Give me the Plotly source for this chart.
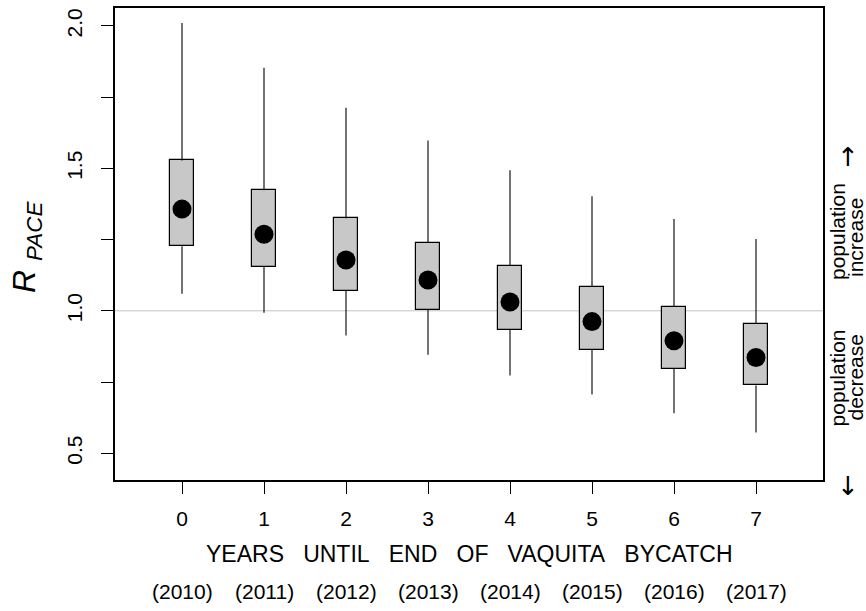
import plotly.graph_objects as go

# values
years_until = [0, 1, 2, 3, 4, 5, 6, 7]
calendar_years = [2010, 2011, 2012, 2013, 2014, 2015, 2016, 2017]
whisker_hi = [2.01, 1.853, 1.713, 1.598, 1.493, 1.402, 1.322, 1.252]
q3 = [1.528, 1.423, 1.325, 1.238, 1.157, 1.084, 1.014, 0.955]
median = [1.357, 1.269, 1.178, 1.108, 1.031, 0.962, 0.895, 0.836]
q1 = [1.227, 1.154, 1.070, 1.003, 0.934, 0.864, 0.797, 0.738]
whisker_lo = [1.06, 0.993, 0.913, 0.846, 0.773, 0.706, 0.640, 0.573]

y_tickvals = [0.5, 0.75, 1.0, 1.25, 1.5, 1.75, 2.0]
y_ticktext = ["0.5", "", "1.0", "", "1.5", "", "2.0"]

FONT = "Liberation Sans, Arial, sans-serif"

# page size and plot-area margins (px)
W, H = 866, 611
L, R, T, B = 115, 43, 6, 131
pw, ph = W - L - R, H - T - B


def px_x(x):
    return (x - L) / pw


def px_y(y):
    return (H - B - y) / ph


fig = go.Figure()

# whiskers
wx, wy = [], []
for x, lo, a, b, hi in zip(years_until, whisker_lo, q1, q3, whisker_hi):
    wx += [x, x, None, x, x, None]
    wy += [lo, a, None, b, hi, None]
fig.add_trace(go.Scatter(x=wx, y=wy, mode="lines",
                         line=dict(color="black", width=1.1),
                         hoverinfo="skip", showlegend=False))

# boxes
fig.add_trace(go.Bar(x=years_until, y=[b - a for a, b in zip(q1, q3)], base=q1,
                     width=0.3, marker=dict(color="#c8c8c8",
                                            line=dict(color="black", width=1.2)),
                     showlegend=False))

# medians as dots
fig.add_trace(go.Scatter(x=years_until, y=median, mode="markers",
                         marker=dict(color="black", size=19),
                         showlegend=False))

fig.add_shape(type="line", xref="paper", x0=0, x1=1, y0=1.0, y1=1.0,
              line=dict(color="#c4c4c4", width=1), layer="below")

fig.update_xaxes(range=[-0.817, 7.817], tickvals=years_until,
                 ticktext=[str(v) for v in years_until],
                 ticks="outside", ticklen=12, tickwidth=1.2, tickcolor="black",
                 ticklabelstandoff=7,
                 showline=True, linecolor="black", linewidth=1.5, mirror=True,
                 showgrid=False, zeroline=False,
                 tickfont=dict(family=FONT, size=21, color="black"))
fig.update_yaxes(range=[0.406, 2.063], tickvals=y_tickvals, ticktext=y_ticktext,
                 tickangle=-90,
                 ticks="outside", ticklen=12, tickwidth=1.2, tickcolor="black",
                 ticklabelstandoff=11,
                 showline=True, linecolor="black", linewidth=1.5, mirror=True,
                 showgrid=False, zeroline=False,
                 tickfont=dict(family=FONT, size=21, color="black"))


def note(text, x, y, size, angle=0, xref="paper", family=FONT):
    return dict(text=text, xref=xref, x=x if xref == "x" else px_x(x),
                yref="paper", y=px_y(y), xanchor="center", yanchor="middle",
                textangle=angle, showarrow=False,
                font=dict(family=family, size=size, color="black"))


nb = "\u00a0\u00a0\u00a0"
ann = [note(f"YEARS{nb}UNTIL{nb}END{nb}OF{nb}VAQUITA{nb}BYCATCH", 470, 554, 23)]
for x, yr in zip(years_until, calendar_years):
    ann.append(note(f"({yr})", x, 592, 21, xref="x"))
ann.append(note("<i>R</i> <sub><i>PACE</i></sub>", 27, 246, 32, angle=-90))
for txt, xx, yy in [("population", 837, 231), ("increase", 855, 237),
                    ("population", 837, 378), ("decrease", 855, 377)]:
    ann.append(note(txt, xx, yy, 21, angle=-90))
ann.append(note("\u2192", 847, 155, 26, angle=-90, family="DejaVu Sans"))
ann.append(note("\u2190", 847, 485, 26, angle=-90, family="DejaVu Sans"))
fig.update_layout(annotations=ann)

fig.update_layout(width=W, height=H, margin=dict(l=L, r=R, t=T, b=B),
                  plot_bgcolor="white", paper_bgcolor="white",
                  showlegend=False, bargap=0)

fig.write_html("out.html", config={"displayModeBar": False},
               post_script="document.body.style.margin='0';")
